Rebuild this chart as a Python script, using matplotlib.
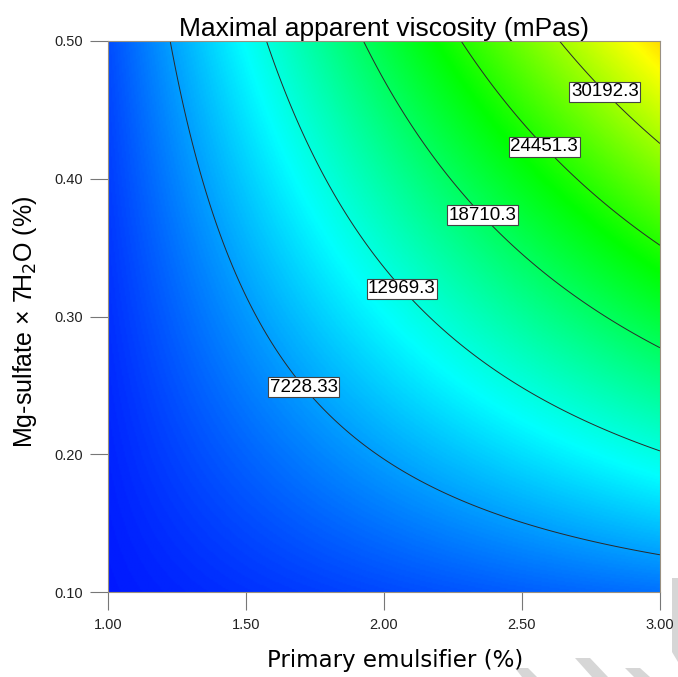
import matplotlib
matplotlib.use("Agg")
import matplotlib.pyplot as plt
import numpy as np
from matplotlib.colors import LinearSegmentedColormap
from matplotlib.patches import Polygon

x_range = [1.0, 3.0]
y_range = [0.10, 0.50]
levels = [7228.33, 12969.3, 18710.3, 24451.3, 30192.3]
level_labels = ["7228.33", "12969.3", "18710.3", "24451.3", "30192.3"]
xticks = [1.0, 1.5, 2.0, 2.5, 3.0]
yticks = [0.10, 0.20, 0.30, 0.40, 0.50]
vmin, vmax = 0.0, 46000.0

# points: (emulsifier %, Mg-sulfate %)
line_7228 = [(1.228, 0.500), (1.257, 0.477), (1.290, 0.441), (1.333, 0.404), (1.399, 0.358),
             (1.612, 0.268), (1.696, 0.247), (1.793, 0.225), (2.239, 0.183), (2.601, 0.147),
             (3.000, 0.125)]
line_12969 = [(1.587, 0.500), (1.641, 0.472), (1.725, 0.426), (1.986, 0.339), (2.076, 0.318),
              (2.167, 0.300), (2.275, 0.276), (3.000, 0.200)]
line_18710 = [(1.902, 0.500), (2.370, 0.376), (3.000, 0.276)]
line_24451 = [(2.232, 0.500), (2.420, 0.461), (2.536, 0.435), (2.601, 0.419), (2.699, 0.401),
              (3.000, 0.351)]
line_30192 = [(2.649, 0.500), (2.746, 0.474), (2.837, 0.459), (2.989, 0.428), (3.000, 0.425)]
lines = [line_7228, line_12969, line_18710, line_24451, line_30192]

# label centres (on the lines)
label_pos = [(1.70, 0.247), (2.08, 0.323), (2.37, 0.376), (2.60, 0.427), (2.82, 0.467)]


def terms(x, y):
    return np.stack([np.ones_like(x), x, y, x * y, x ** 2, y ** 2], axis=-1)


# quadratic response surface through the read points
px = np.array([p[0] for ln in lines for p in ln])
py = np.array([p[1] for ln in lines for p in ln])
pv = np.array([lv for lv, ln in zip(levels, lines) for _ in ln])
coef, *_ = np.linalg.lstsq(terms(px, py), pv, rcond=None)

de_cmap = LinearSegmentedColormap.from_list(
    "de", ["#0000ff", "#00ffff", "#00ff00", "#ffff00", "#ff0000"])

xs = np.linspace(x_range[0], x_range[1], 400)
ys = np.linspace(y_range[0], y_range[1], 400)
X, Y = np.meshgrid(xs, ys)
Z = terms(X, Y) @ coef

fig = plt.figure(figsize=(6.78, 6.77), dpi=100)
ax = fig.add_axes([108 / 678, 85 / 677, 552 / 678, 551 / 677])

ax.imshow(Z, extent=[x_range[0], x_range[1], y_range[0], y_range[1]], origin="lower",
          aspect="auto", cmap=de_cmap, vmin=vmin, vmax=vmax, interpolation="bilinear")
cs = ax.contour(X, Y, Z, levels=levels, colors="#2a2a2a", linewidths=0.7)
labs = ax.clabel(cs, levels, inline=False, manual=label_pos,
                 fmt=dict(zip(levels, level_labels)), fontsize=13.5)
for t in labs:
    t.set_family("Liberation Sans")
    t.set_color("black")
    t.set_rotation(0)
    t.set_bbox(dict(boxstyle="square,pad=0.08", facecolor="white", edgecolor="#444444", linewidth=0.8))

ax.set_xlim(x_range)
ax.set_ylim(y_range)
ax.set_xticks(xticks)
ax.set_yticks(yticks)
ax.set_xticklabels([f"{v:.2f}" for v in xticks], family="Liberation Sans", fontsize=10.5, color="#222222")
ax.set_yticklabels([f"{v:.2f}" for v in yticks], family="Liberation Sans", fontsize=10.5, color="#222222")
ax.tick_params(direction="out", length=13, width=0.8, color="#777777")
ax.tick_params(axis="x", pad=6)
ax.tick_params(axis="y", pad=5)
for s in ax.spines.values():
    s.set_color("#9a9080")
    s.set_linewidth(0.8)

ax.set_title("Maximal apparent viscosity (mPas)", family="Liberation Sans", fontsize=19, pad=2)
ax.set_xlabel("Primary emulsifier (%)", family="DejaVu Sans", fontsize=16.5)
ax.xaxis.set_label_coords(0.52, -0.104)
ax.set_ylabel("Mg-sulfate × 7H$_2$O (%)", family="Liberation Sans", fontsize=18)
ax.yaxis.set_label_coords(-0.125, 0.49)

# faint watermark shapes in the bottom-right corner
H = 677.0
for pts in [[(515, 668), (528, 668), (537, 677), (522, 677)],
            [(575, 658), (590, 658), (608, 677), (592, 677)],
            [(625, 668), (640, 668), (650, 677), (634, 677)],
            [(672, 578), (678, 578), (678, 662), (672, 652)]]:
    fp = [(qx / 678.0, 1 - qy / H) for qx, qy in pts]
    fig.patches.append(Polygon(fp, closed=True, transform=fig.transFigure,
                               facecolor="#d6d6d6", edgecolor="none", zorder=-1))

fig.savefig("out.png", dpi=100)
